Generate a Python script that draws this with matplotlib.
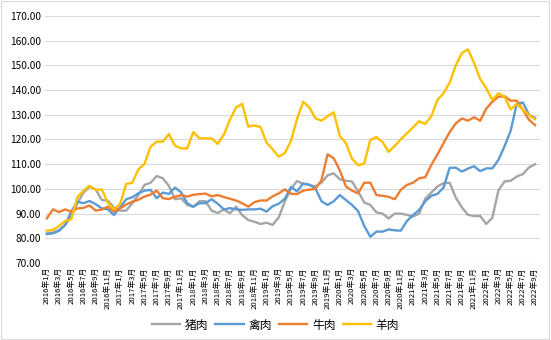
import matplotlib.pyplot as plt
from matplotlib.patches import Rectangle

plt.rcParams["font.family"] = ["Noto Sans CJK SC", "DejaVu Sans"]

# ---
# Data: monthly price index, 2016-01 .. 2022-09
# ---
months = [f"{2016 + k // 12}年{k % 12 + 1}月" for k in range(81)]

pork = [82.0, 82.3, 83.4, 85.4, 88.8, 94.2, 98.5, 100.9, 99.8, 95.5,
        95.2, 92.5, 91.2, 91.2, 94.2, 97.5, 101.6, 102.5, 105.2, 104.3,
        101.2, 95.8, 96.2, 93.5, 92.7, 95.0, 95.0, 91.2, 90.2, 91.7,
        90.1, 92.8, 89.4, 87.4, 86.7, 85.8, 86.3, 85.4, 88.5, 95.0,
        100.0, 103.2, 102.0, 101.6, 101.0, 102.5, 105.5, 106.3, 103.9, 103.3,
        103.0, 99.0, 94.5, 93.5, 90.5, 90.0, 88.0, 90.0, 90.0, 89.5,
        88.8, 90.0, 96.0, 98.5, 101.0, 102.3, 102.5, 96.5, 92.5, 89.5,
        89.0, 89.0, 85.8, 88.3, 99.5, 103.0, 103.3, 105.0, 106.0, 108.7,
        110.0]

poultry = [81.7, 82.0, 83.0, 85.4, 90.8, 94.8, 94.2, 95.1, 93.8, 92.1,
           91.7, 89.4, 92.5, 95.8, 96.6, 98.2, 99.3, 99.6, 96.2, 98.5,
           98.0, 100.5, 98.6, 94.2, 92.8, 94.2, 94.2, 95.8, 94.0, 91.7,
           92.2, 91.7, 91.5, 91.7, 91.7, 92.0, 90.8, 93.0, 94.0, 96.0,
           100.8, 99.0, 102.2, 101.7, 100.2, 95.0, 93.5, 95.0, 97.5, 95.5,
           93.5, 91.0, 85.0, 80.6, 82.7, 82.7, 83.6, 83.2, 83.1, 87.0,
           89.4, 91.5, 95.0, 97.2, 98.0, 100.5, 108.5, 108.6, 107.0, 108.2,
           109.2, 107.2, 108.3, 108.3, 111.8, 117.3, 123.5, 134.5, 135.0, 130.0,
           128.7]

beef = [88.1, 91.7, 90.6, 91.7, 90.8, 92.1, 92.3, 93.3, 91.2, 91.6,
        92.8, 90.8, 92.1, 93.7, 94.8, 95.6, 96.9, 97.7, 99.3, 96.2,
        95.9, 96.8, 97.5, 96.9, 97.6, 97.9, 98.1, 97.0, 97.5, 96.7,
        96.0, 95.3, 94.2, 92.8, 94.6, 95.3, 95.3, 97.0, 98.2, 99.8,
        98.0, 97.9, 99.3, 99.7, 100.0, 103.5, 114.0, 112.4, 107.5, 101.0,
        99.3, 98.2, 102.5, 102.5, 97.5, 97.2, 96.8, 95.8, 99.6, 101.6,
        102.5, 104.3, 104.7, 109.7, 114.0, 118.5, 123.0, 126.5, 128.5, 127.6,
        129.0, 127.6, 132.5, 135.3, 137.3, 137.5, 135.7, 135.7, 132.0, 128.0,
        125.8]

mutton = [83.1, 83.4, 85.0, 87.0, 87.7, 96.6, 99.3, 101.2, 99.6, 99.8,
          94.4, 91.7, 93.9, 102.0, 102.5, 107.9, 110.1, 117.1, 119.1, 119.1,
          122.2, 117.5, 116.4, 116.4, 123.0, 120.5, 120.5, 120.4, 118.2, 122.0,
          128.0, 133.0, 134.4, 125.2, 125.7, 125.1, 118.7, 116.0, 113.0, 114.5,
          119.5, 128.3, 135.3, 133.0, 128.6, 127.6, 129.4, 131.0, 121.4, 118.5,
          112.2, 109.6, 110.2, 119.8, 121.0, 119.0, 115.0, 117.4, 120.1, 122.5,
          124.9, 127.4, 126.3, 129.5, 136.0, 138.7, 143.0, 150.0, 155.0, 156.5,
          151.0, 144.5, 140.7, 136.0, 138.7, 137.3, 132.2, 134.4, 132.0, 130.0,
          128.2]

series = [("猪肉", pork, "#a5a5a5"),
          ("禽肉", poultry, "#5b9bd5"),
          ("牛肉", beef, "#ed7d31"),
          ("羊肉", mutton, "#ffc000")]

fig = plt.figure(figsize=(5.51, 3.40), dpi=100)
ax = fig.add_axes([0.0817, 0.2265, 0.8983, 0.7265])

x = list(range(len(months)))
for name, values, color in series:
    ax.plot(x, values, color=color, linewidth=1.7, label=name)

ax.set_ylim(70, 170)
ax.set_yticks(range(70, 171, 10))
ax.set_yticklabels([f"{v:.2f}" for v in range(70, 171, 10)], fontsize=7.3)
ax.set_xlim(-0.3, 80.8)
ax.set_xticks(x[::2])
ax.set_xticklabels(months[::2], rotation=90, fontsize=5.6)
ax.tick_params(length=0, pad=3)
ax.grid(axis="y", color="#d9d9d9", linewidth=0.8)
ax.set_axisbelow(True)
for side in ax.spines.values():
    side.set_visible(False)

ax.legend(loc="center", bbox_to_anchor=(0.5, 0.044), bbox_transform=fig.transFigure,
          ncol=4, frameon=False, fontsize=8.5, handlelength=2.4, columnspacing=0.6,
          handletextpad=0.4, borderpad=0.1)

# light border round the whole chart
fig.patches.append(Rectangle((0.002, 0.003), 0.995, 0.994, transform=fig.transFigure,
                             fill=False, edgecolor="#d9d9d9", linewidth=0.8))

fig.savefig("out.png", dpi=100)
